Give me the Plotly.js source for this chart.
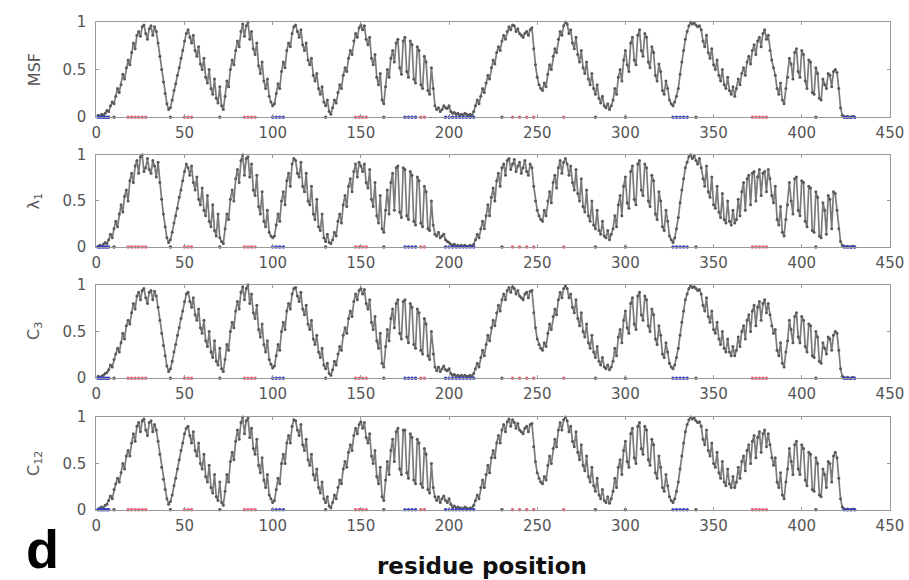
<!DOCTYPE html>
<html>
<head>
<meta charset="utf-8">
<script src="https://cdn.plot.ly/plotly-3.0.1.min.js"></script>
<style>html,body{margin:0;padding:0;background:#fff;}#chart{width:909px;height:580px;}</style>
</head>
<body>
<div id="chart"></div>
<script>
// Panel labels
const panelLabels = ['MSF', 'λ<sub>1</sub>', 'C<sub>3</sub>', 'C<sub>12</sub>'];
const xTickVals = [0, 50, 100, 150, 200, 250, 300, 350, 400, 450];
const yTickVals = [0, 0.5, 1];
const yTickText = ['0', '0.5', '1'];

// Normalised profiles, residues 1..430 (10 values per line)
const msf = [
0.02,0.01,0.03,0.02,0.04,0.07,0.06,0.12,0.16,0.14,
0.22,0.30,0.26,0.34,0.45,0.40,0.52,0.60,0.55,0.68,
0.78,0.72,0.86,0.90,0.85,0.95,0.97,0.88,0.82,0.93,
0.96,0.86,0.95,0.90,0.78,0.64,0.50,0.37,0.25,0.14,
0.08,0.10,0.18,0.28,0.35,0.44,0.52,0.62,0.70,0.80,
0.88,0.92,0.84,0.78,0.86,0.70,0.64,0.74,0.56,0.50,
0.62,0.42,0.36,0.50,0.30,0.24,0.40,0.20,0.15,0.32,
0.12,0.08,0.22,0.38,0.32,0.50,0.60,0.55,0.70,0.80,
0.74,0.90,0.98,0.85,0.96,1.00,0.82,0.90,0.72,0.66,
0.78,0.54,0.46,0.58,0.38,0.30,0.40,0.22,0.16,0.12,
0.14,0.25,0.35,0.30,0.48,0.58,0.52,0.70,0.78,0.74,
0.88,0.95,0.97,0.90,0.84,0.92,0.76,0.70,0.78,0.60,
0.55,0.62,0.44,0.38,0.46,0.30,0.24,0.32,0.16,0.12,
0.18,0.06,0.03,0.10,0.18,0.15,0.26,0.34,0.30,0.44,
0.52,0.48,0.62,0.70,0.66,0.80,0.88,0.84,0.94,0.97,
0.92,0.96,0.82,0.76,0.84,0.62,0.55,0.66,0.42,0.34,
0.46,0.18,0.14,0.32,0.50,0.42,0.62,0.70,0.58,0.78,
0.82,0.52,0.45,0.80,0.84,0.48,0.42,0.80,0.76,0.40,
0.36,0.74,0.70,0.34,0.30,0.64,0.58,0.28,0.24,0.52,
0.30,0.12,0.08,0.10,0.06,0.08,0.12,0.10,0.09,0.12,
0.06,0.04,0.05,0.03,0.04,0.02,0.03,0.02,0.04,0.03,
0.02,0.03,0.02,0.06,0.12,0.18,0.14,0.22,0.30,0.26,
0.36,0.44,0.40,0.52,0.60,0.56,0.68,0.74,0.70,0.80,
0.86,0.82,0.90,0.95,0.92,0.97,0.96,0.90,0.93,0.88,
0.86,0.84,0.88,0.90,0.86,0.92,0.94,0.72,0.55,0.42,
0.34,0.30,0.28,0.36,0.32,0.45,0.55,0.50,0.64,0.72,
0.68,0.82,0.90,0.86,0.96,1.00,0.98,0.88,0.92,0.78,
0.72,0.84,0.66,0.58,0.70,0.52,0.46,0.58,0.40,0.34,
0.46,0.30,0.24,0.34,0.20,0.15,0.22,0.12,0.10,0.14,
0.08,0.12,0.18,0.30,0.24,0.42,0.50,0.38,0.60,0.70,
0.55,0.48,0.78,0.84,0.60,0.55,0.86,0.92,0.70,0.64,
0.88,0.84,0.58,0.52,0.74,0.68,0.44,0.38,0.56,0.48,
0.28,0.24,0.38,0.30,0.18,0.14,0.12,0.16,0.22,0.30,
0.45,0.58,0.70,0.82,0.90,0.96,1.00,0.98,0.99,0.97,
0.95,0.96,0.92,0.80,0.74,0.86,0.68,0.62,0.72,0.55,
0.50,0.60,0.44,0.38,0.50,0.34,0.30,0.42,0.28,0.24,
0.32,0.22,0.30,0.40,0.34,0.46,0.52,0.44,0.58,0.64,
0.56,0.70,0.76,0.66,0.80,0.84,0.74,0.88,0.92,0.82,
0.86,0.70,0.60,0.52,0.44,0.30,0.24,0.36,0.18,0.14,
0.30,0.42,0.62,0.56,0.40,0.68,0.72,0.48,0.42,0.70,
0.66,0.38,0.30,0.60,0.58,0.26,0.24,0.52,0.46,0.20,
0.18,0.40,0.34,0.30,0.46,0.44,0.32,0.48,0.50,0.47,
0.30,0.10,0.02,0.01,0.00,0.01,0.00,0.00,0.01,0.00
];

const lambda1 = [
0.01,0.02,0.01,0.03,0.05,0.04,0.08,0.14,0.10,0.20,
0.28,0.22,0.36,0.46,0.38,0.55,0.62,0.50,0.72,0.80,
0.70,0.88,0.94,0.80,0.98,1.00,0.82,0.86,0.96,0.84,
0.80,0.94,0.88,0.76,0.92,0.70,0.52,0.36,0.22,0.10,
0.05,0.08,0.16,0.26,0.34,0.42,0.54,0.62,0.72,0.82,
0.90,0.86,0.78,0.88,0.70,0.62,0.76,0.52,0.46,0.64,
0.40,0.34,0.56,0.28,0.22,0.46,0.18,0.12,0.36,0.10,
0.06,0.04,0.20,0.36,0.30,0.52,0.62,0.50,0.74,0.84,
0.70,0.94,1.00,0.78,0.96,0.98,0.76,0.90,0.62,0.56,
0.78,0.44,0.36,0.60,0.28,0.22,0.40,0.16,0.12,0.10,
0.12,0.24,0.36,0.28,0.50,0.60,0.46,0.72,0.80,0.66,
0.90,0.96,0.94,0.80,0.76,0.92,0.66,0.60,0.80,0.50,
0.46,0.66,0.36,0.30,0.52,0.22,0.18,0.36,0.10,0.06,
0.14,0.05,0.04,0.08,0.16,0.12,0.28,0.36,0.26,0.46,
0.56,0.44,0.66,0.74,0.60,0.82,0.90,0.76,0.92,0.88,
0.82,0.90,0.70,0.64,0.84,0.52,0.44,0.70,0.34,0.26,
0.56,0.20,0.16,0.40,0.62,0.36,0.70,0.80,0.40,0.86,
0.88,0.38,0.32,0.86,0.84,0.34,0.30,0.82,0.78,0.28,
0.24,0.76,0.72,0.26,0.22,0.66,0.60,0.20,0.18,0.50,
0.24,0.14,0.12,0.16,0.10,0.12,0.14,0.08,0.06,0.05,
0.03,0.02,0.03,0.01,0.02,0.01,0.02,0.01,0.02,0.01,
0.01,0.02,0.01,0.03,0.08,0.14,0.10,0.20,0.28,0.20,
0.34,0.46,0.34,0.54,0.64,0.50,0.72,0.80,0.66,0.86,
0.90,0.78,0.94,0.96,0.84,0.90,0.95,0.82,0.88,0.92,
0.80,0.86,0.94,0.82,0.78,0.90,0.86,0.66,0.50,0.40,
0.34,0.30,0.28,0.40,0.34,0.50,0.60,0.48,0.70,0.78,
0.64,0.86,0.94,0.80,0.92,0.96,0.90,0.78,0.88,0.70,
0.62,0.84,0.58,0.50,0.74,0.44,0.38,0.62,0.34,0.28,
0.50,0.24,0.20,0.40,0.18,0.14,0.28,0.12,0.10,0.18,
0.08,0.14,0.20,0.34,0.22,0.46,0.56,0.34,0.66,0.76,
0.48,0.42,0.82,0.88,0.52,0.46,0.90,0.94,0.62,0.56,
0.90,0.86,0.50,0.44,0.78,0.72,0.36,0.30,0.60,0.50,
0.22,0.18,0.40,0.28,0.12,0.08,0.05,0.10,0.20,0.32,
0.48,0.62,0.74,0.86,0.92,0.98,1.00,0.96,0.99,0.94,
0.90,0.96,0.86,0.74,0.66,0.88,0.60,0.54,0.76,0.46,
0.42,0.66,0.38,0.32,0.58,0.30,0.26,0.50,0.28,0.24,
0.40,0.26,0.30,0.52,0.34,0.60,0.70,0.40,0.74,0.78,
0.46,0.80,0.82,0.50,0.76,0.84,0.56,0.80,0.82,0.60,
0.84,0.74,0.56,0.48,0.66,0.30,0.24,0.44,0.16,0.12,
0.30,0.46,0.70,0.50,0.36,0.74,0.76,0.40,0.34,0.72,
0.70,0.28,0.22,0.66,0.64,0.18,0.16,0.60,0.54,0.12,
0.10,0.48,0.40,0.14,0.56,0.52,0.20,0.60,0.58,0.40,
0.20,0.06,0.02,0.01,0.00,0.01,0.00,0.00,0.01,0.00
];

const c3 = [
0.02,0.01,0.02,0.03,0.05,0.06,0.09,0.14,0.12,0.20,
0.26,0.32,0.28,0.38,0.48,0.42,0.56,0.62,0.58,0.70,
0.80,0.74,0.88,0.92,0.84,0.94,0.96,0.86,0.80,0.92,
0.94,0.84,0.93,0.88,0.76,0.62,0.48,0.35,0.24,0.13,
0.07,0.10,0.18,0.28,0.36,0.46,0.54,0.64,0.72,0.82,
0.90,0.92,0.82,0.76,0.86,0.68,0.62,0.74,0.54,0.48,
0.62,0.40,0.34,0.50,0.28,0.22,0.40,0.18,0.14,0.32,
0.10,0.07,0.20,0.36,0.30,0.50,0.60,0.54,0.72,0.82,
0.74,0.92,0.98,0.84,0.96,1.00,0.80,0.90,0.70,0.64,
0.78,0.52,0.44,0.58,0.36,0.28,0.40,0.20,0.15,0.11,
0.13,0.24,0.36,0.30,0.50,0.60,0.52,0.72,0.80,0.74,
0.90,0.96,0.97,0.88,0.82,0.92,0.74,0.68,0.78,0.58,
0.52,0.62,0.42,0.36,0.46,0.28,0.22,0.32,0.14,0.10,
0.16,0.05,0.03,0.09,0.18,0.14,0.26,0.34,0.30,0.46,
0.54,0.48,0.64,0.72,0.66,0.82,0.90,0.84,0.94,0.96,
0.90,0.95,0.80,0.74,0.84,0.60,0.52,0.66,0.40,0.32,
0.48,0.16,0.12,0.34,0.52,0.40,0.64,0.74,0.54,0.80,
0.84,0.48,0.42,0.82,0.84,0.44,0.38,0.80,0.76,0.36,
0.32,0.74,0.70,0.30,0.26,0.64,0.58,0.24,0.20,0.50,
0.26,0.12,0.08,0.12,0.07,0.10,0.13,0.09,0.08,0.10,
0.05,0.03,0.04,0.02,0.03,0.02,0.03,0.02,0.03,0.02,
0.02,0.03,0.02,0.05,0.10,0.16,0.12,0.22,0.30,0.24,
0.36,0.46,0.40,0.54,0.62,0.56,0.70,0.78,0.72,0.84,
0.90,0.84,0.94,0.97,0.92,0.98,0.96,0.90,0.94,0.88,
0.86,0.84,0.90,0.92,0.86,0.93,0.94,0.70,0.54,0.42,
0.36,0.32,0.30,0.38,0.34,0.48,0.58,0.52,0.66,0.74,
0.68,0.84,0.92,0.86,0.96,0.99,0.96,0.86,0.90,0.76,
0.70,0.84,0.64,0.56,0.70,0.50,0.44,0.58,0.38,0.32,
0.46,0.28,0.22,0.34,0.18,0.14,0.22,0.12,0.10,0.14,
0.09,0.12,0.18,0.32,0.24,0.44,0.52,0.38,0.62,0.72,
0.54,0.48,0.80,0.86,0.58,0.52,0.88,0.92,0.68,0.62,
0.88,0.84,0.56,0.50,0.74,0.68,0.42,0.36,0.56,0.46,
0.26,0.22,0.38,0.28,0.16,0.12,0.10,0.14,0.22,0.32,
0.46,0.60,0.72,0.84,0.90,0.96,0.99,0.97,0.98,0.96,
0.94,0.95,0.90,0.78,0.72,0.86,0.66,0.60,0.72,0.52,
0.48,0.60,0.42,0.36,0.50,0.32,0.28,0.42,0.28,0.24,
0.34,0.24,0.30,0.44,0.34,0.50,0.56,0.42,0.62,0.68,
0.50,0.72,0.78,0.56,0.76,0.82,0.62,0.80,0.84,0.70,
0.80,0.68,0.56,0.48,0.52,0.30,0.24,0.38,0.16,0.12,
0.28,0.40,0.62,0.52,0.38,0.66,0.70,0.44,0.38,0.66,
0.62,0.34,0.28,0.58,0.56,0.24,0.22,0.50,0.44,0.18,
0.16,0.38,0.32,0.26,0.44,0.42,0.30,0.46,0.50,0.48,
0.30,0.10,0.02,0.01,0.00,0.01,0.00,0.00,0.01,0.00
];

const c12 = [
0.01,0.02,0.03,0.02,0.05,0.06,0.10,0.15,0.12,0.22,
0.28,0.34,0.30,0.40,0.50,0.44,0.58,0.64,0.58,0.72,
0.82,0.74,0.90,0.94,0.84,0.96,0.98,0.86,0.80,0.94,
0.96,0.84,0.92,0.86,0.74,0.60,0.46,0.33,0.22,0.12,
0.06,0.09,0.16,0.26,0.34,0.44,0.54,0.64,0.72,0.82,
0.88,0.90,0.80,0.72,0.84,0.64,0.58,0.72,0.50,0.44,
0.60,0.36,0.30,0.48,0.24,0.18,0.38,0.14,0.10,0.30,
0.08,0.05,0.20,0.38,0.30,0.52,0.62,0.54,0.74,0.86,
0.76,0.94,1.00,0.82,0.96,0.99,0.78,0.88,0.66,0.60,
0.76,0.48,0.40,0.56,0.32,0.24,0.38,0.16,0.12,0.08,
0.10,0.22,0.34,0.28,0.50,0.60,0.50,0.72,0.80,0.72,
0.90,0.97,0.96,0.86,0.80,0.92,0.70,0.64,0.76,0.54,
0.48,0.60,0.38,0.32,0.44,0.24,0.18,0.30,0.12,0.08,
0.14,0.04,0.02,0.08,0.16,0.12,0.24,0.32,0.28,0.44,
0.52,0.46,0.62,0.70,0.64,0.80,0.88,0.82,0.92,0.95,
0.88,0.94,0.78,0.72,0.82,0.58,0.50,0.64,0.36,0.28,
0.46,0.14,0.10,0.32,0.52,0.38,0.64,0.76,0.52,0.84,
0.88,0.44,0.38,0.86,0.86,0.40,0.34,0.82,0.78,0.32,
0.28,0.76,0.72,0.28,0.24,0.66,0.60,0.22,0.18,0.50,
0.24,0.14,0.10,0.14,0.08,0.12,0.15,0.10,0.08,0.12,
0.06,0.03,0.04,0.02,0.03,0.02,0.02,0.01,0.03,0.02,
0.01,0.02,0.02,0.05,0.10,0.16,0.12,0.24,0.32,0.24,
0.38,0.48,0.40,0.56,0.64,0.56,0.72,0.80,0.72,0.86,
0.92,0.84,0.95,0.98,0.90,0.97,0.94,0.88,0.93,0.86,
0.84,0.82,0.88,0.90,0.84,0.92,0.93,0.68,0.52,0.40,
0.34,0.30,0.28,0.36,0.32,0.48,0.58,0.50,0.66,0.76,
0.68,0.86,0.94,0.86,0.97,1.00,0.96,0.84,0.90,0.74,
0.68,0.84,0.62,0.54,0.70,0.48,0.42,0.58,0.36,0.30,
0.46,0.26,0.20,0.34,0.16,0.12,0.22,0.10,0.08,0.14,
0.07,0.12,0.20,0.34,0.24,0.46,0.54,0.38,0.64,0.74,
0.52,0.46,0.82,0.88,0.56,0.50,0.90,0.94,0.66,0.60,
0.90,0.86,0.54,0.48,0.76,0.70,0.40,0.34,0.58,0.46,
0.24,0.20,0.38,0.26,0.14,0.10,0.08,0.12,0.20,0.30,
0.44,0.58,0.72,0.84,0.92,0.97,1.00,0.98,0.99,0.96,
0.94,0.95,0.90,0.76,0.70,0.86,0.64,0.58,0.72,0.50,
0.46,0.62,0.40,0.34,0.52,0.30,0.26,0.44,0.28,0.24,
0.36,0.24,0.30,0.46,0.34,0.52,0.58,0.42,0.64,0.70,
0.50,0.74,0.80,0.56,0.78,0.84,0.62,0.82,0.86,0.68,
0.82,0.70,0.56,0.48,0.56,0.30,0.24,0.40,0.16,0.12,
0.30,0.44,0.66,0.52,0.38,0.70,0.74,0.44,0.38,0.70,
0.66,0.32,0.26,0.62,0.60,0.22,0.20,0.56,0.50,0.16,
0.14,0.44,0.38,0.24,0.52,0.50,0.30,0.58,0.62,0.56,
0.34,0.12,0.03,0.01,0.00,0.01,0.00,0.00,0.01,0.00
];

// Highlighted residues (drawn on the baseline)
const redResidues = [18,20,22,24,26,28,50,52,54,84,86,88,90,147,149,151,153,184,186,236,240,244,248,265,372,374,376,378,380];
const blueResidues = [1,2,3,4,5,6,7,100,102,104,106,175,177,179,181,198,200,202,204,206,208,210,212,214,327,329,331,333,335,424,426,428,430];
const darkResidues = [10,42,70,130,163,230,283,300,340,408];
const baselineLevel = 0;

const series = [msf, lambda1, c3, c12];
const residues = msf.map((_, i) => i + 1);

const yDomains = [[0.798, 0.962], [0.574, 0.733], [0.348, 0.509], [0.121, 0.281]];
const tickFont = {family: 'DejaVu Sans, Arial, sans-serif', size: 15, color: '#555'};

const traces = [];
const layout = {
  width: 909, height: 580,
  margin: {l: 0, r: 0, t: 0, b: 0},
  paper_bgcolor: '#fff', plot_bgcolor: '#fff',
  showlegend: false,
  annotations: []
};

series.forEach((vals, i) => {
  const n = i + 1;
  const xa = 'x' + n, ya = 'y' + n;
  traces.push({
    x: residues, y: vals, xaxis: xa, yaxis: ya, type: 'scatter',
    mode: 'lines+markers',
    line: {color: '#7a7a7a', width: 1.7},
    marker: {size: 3, color: '#595959'},
    hoverinfo: 'skip', cliponaxis: false
  });
  traces.push({
    x: redResidues, y: redResidues.map(() => baselineLevel), xaxis: xa, yaxis: ya, type: 'scatter',
    mode: 'markers', marker: {size: 3.5, color: 'rgb(235,95,115)'}, cliponaxis: false, hoverinfo: 'skip'
  });
  traces.push({
    x: blueResidues, y: blueResidues.map(() => baselineLevel), xaxis: xa, yaxis: ya, type: 'scatter',
    mode: 'markers', marker: {size: 3.5, color: 'rgb(55,65,195)'}, cliponaxis: false, hoverinfo: 'skip'
  });
  traces.push({
    x: darkResidues, y: darkResidues.map(() => baselineLevel), xaxis: xa, yaxis: ya, type: 'scatter',
    mode: 'markers', marker: {size: 3.5, color: '#555'}, cliponaxis: false, hoverinfo: 'skip'
  });

  const xKey = n === 1 ? 'xaxis' : 'xaxis' + n;
  const yKey = n === 1 ? 'yaxis' : 'yaxis' + n;
  layout[xKey] = {
    domain: [0.106, 0.979], range: [0, 450], anchor: ya,
    tickvals: xTickVals, ticktext: xTickVals.map(String),
    showline: true, mirror: 'ticks', linecolor: '#999', linewidth: 1,
    ticks: 'inside', ticklen: 3, tickcolor: '#999',
    showgrid: false, zeroline: false, tickfont: tickFont, ticklabelstandoff: 2
  };
  layout[yKey] = {
    domain: yDomains[i], range: [0, 1], anchor: xa,
    tickvals: yTickVals, ticktext: yTickText,
    showline: true, mirror: 'ticks', linecolor: '#999', linewidth: 1,
    ticks: 'inside', ticklen: 3, tickcolor: '#999',
    showgrid: false, zeroline: false, tickfont: tickFont, ticklabelstandoff: 6
  };
  layout.annotations.push({
    text: panelLabels[i], xref: 'paper', yref: 'paper',
    x: 0.038, y: (yDomains[i][0] + yDomains[i][1]) / 2,
    xanchor: 'center', yanchor: 'middle', textangle: -90, showarrow: false,
    font: {family: 'DejaVu Sans, Arial, sans-serif', size: 16, color: '#555'}
  });
});

layout.annotations.push({
  text: '<b>residue position</b>', xref: 'paper', yref: 'paper',
  x: 482 / 909, y: 1 - 566 / 580, xanchor: 'center', yanchor: 'middle', showarrow: false,
  font: {family: 'DejaVu Sans, Arial, sans-serif', size: 23, color: '#111'}
});
layout.annotations.push({
  text: '<b>d</b>', xref: 'paper', yref: 'paper',
  x: 42 / 909, y: 1 - 549 / 580, xanchor: 'center', yanchor: 'middle', showarrow: false,
  font: {family: 'Liberation Sans, Arial, sans-serif', size: 54, color: '#000'}
});

Plotly.newPlot('chart', traces, layout, {displayModeBar: false, staticPlot: true});
</script>
</body>
</html>
